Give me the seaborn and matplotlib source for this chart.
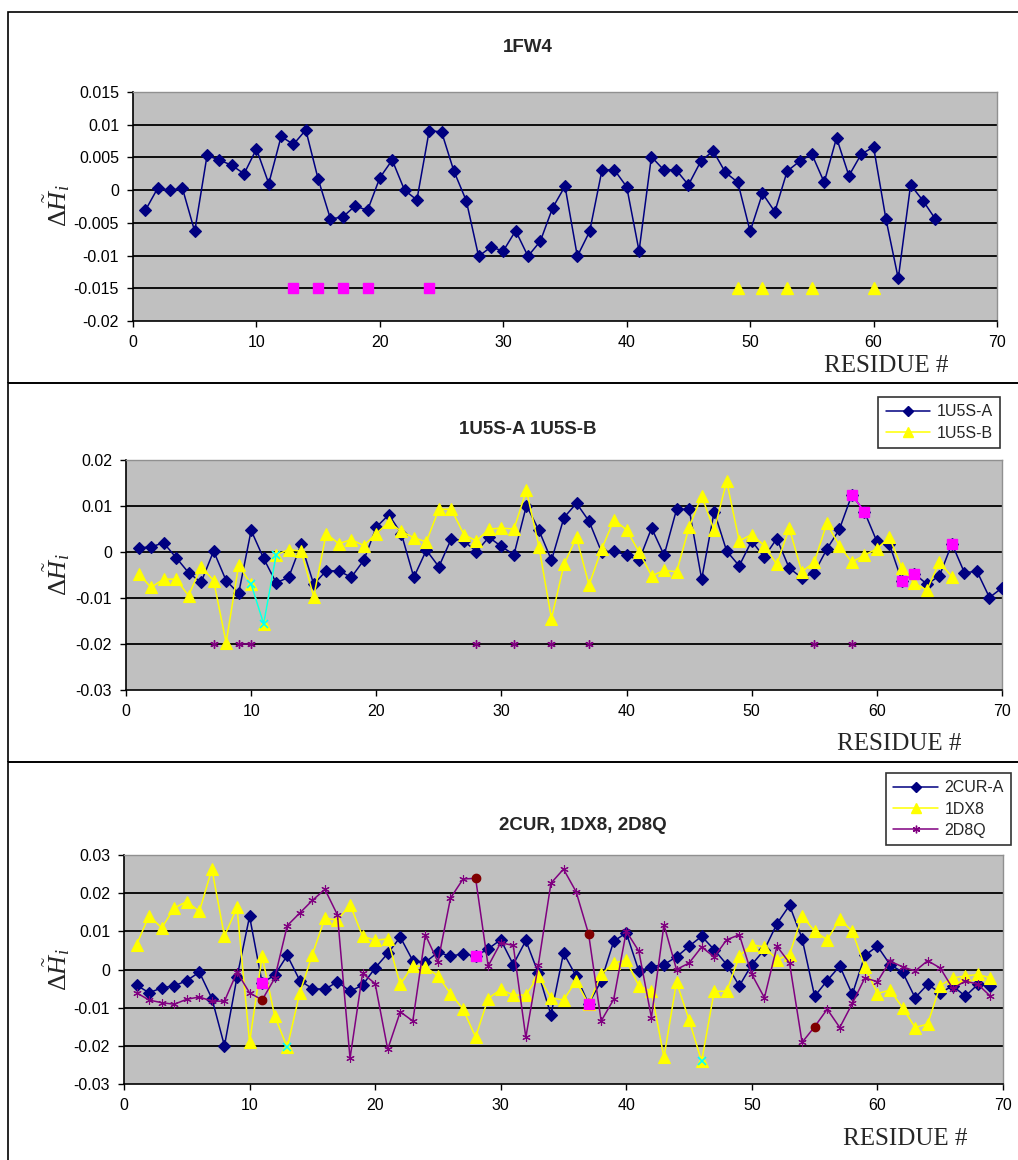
import numpy as np
import matplotlib
matplotlib.use('Agg')
import matplotlib.pyplot as plt
from matplotlib.lines import Line2D
from matplotlib.patches import Rectangle
import seaborn as sns

# ---- data ----
fw4 = [-0.0031, 0.0003, 0.0, 0.0003, -0.0063, 0.0053, 0.0046, 0.0038, 0.0025, 0.0063,
       0.001, 0.0082, 0.007, 0.0092, 0.0017, -0.0044, -0.0041, -0.0024, -0.0031, 0.0019,
       0.0046, 0.0, -0.0015, 0.0091, 0.0089, 0.0029, -0.0016, -0.0101, -0.0087, -0.0093,
       -0.0062, -0.0101, -0.0078, -0.0027, 0.0006, -0.0101, -0.0063, 0.0031, 0.0031, 0.0005,
       -0.0093, 0.0051, 0.0031, 0.0031, 0.0008, 0.0044, 0.006, 0.0027, 0.0012, -0.0063,
       -0.0005, -0.0033, 0.0029, 0.0044, 0.0055, 0.0012, 0.008, 0.0022, 0.0055, 0.0066,
       -0.0044, -0.0135, 0.0008, -0.0016, -0.0044]
fw4_pink_res = [13, 15, 17, 19, 24]
fw4_yellow_res = [49, 51, 53, 55, 60]
fw4_mark_level = -0.015

u5s_a = [0.0009, 0.0011, 0.002, -0.0012, -0.0045, -0.0066, 0.0002, -0.0062, -0.009, 0.0047,
         -0.0014, -0.0067, -0.0055, 0.0017, -0.007, -0.0041, -0.0041, -0.0055, -0.0018, 0.0054,
         0.0081, 0.004, -0.0055, 0.0004, -0.0032, 0.0029, 0.0024, 0.0001, 0.0032, 0.0012,
         -0.0006, 0.0101, 0.0047, -0.0018, 0.0075, 0.0106, 0.0067, 0.0, 0.0002, -0.0007,
         -0.0018, 0.0052, -0.0007, 0.0093, 0.0093, -0.0059, 0.0088, 0.0002, -0.003, 0.0024,
         -0.0011, 0.0029, -0.0035, -0.0056, -0.0045, 0.0006, 0.0049, 0.0124, 0.0088, 0.0023,
         0.0017, -0.0063, -0.0047, -0.007, -0.0052, 0.0018, -0.0045, -0.0042, -0.0099, -0.0078,
         -0.005]
u5s_b = [-0.0047, -0.0077, -0.0059, -0.0059, -0.0095, -0.0032, -0.0062, -0.0197, -0.0029, -0.007,
         -0.0156, -0.0006, 0.0005, 0.0002, -0.0097, 0.004, 0.0018, 0.0027, 0.0014, 0.004,
         0.0065, 0.0045, 0.0031, 0.0022, 0.0093, 0.0093, 0.0038, 0.0024, 0.005, 0.0052,
         0.005, 0.0134, 0.0011, -0.0145, -0.0027, 0.0032, -0.0072, 0.0006, 0.007, 0.0048,
         0.0, -0.0052, -0.004, -0.0043, 0.0054, 0.0122, 0.0047, 0.0154, 0.0024, 0.0038,
         0.0014, -0.0027, 0.0052, -0.0043, -0.0022, 0.0062, 0.0014, -0.0022, -0.0007, 0.0007,
         0.0032, -0.0035, -0.0068, -0.0083, -0.0022, -0.0054]
u5s_cyan_res = [10, 11, 12]
u5s_pink_res = [58, 59, 62, 63, 66]
u5s_star_res = [7, 9, 10, 28, 31, 34, 37, 55, 58]
u5s_star_level = -0.02

cur_a = [-0.0041, -0.0061, -0.0048, -0.0043, -0.0029, -0.0007, -0.0076, -0.02, -0.002, 0.0139,
         -0.0035, -0.0015, 0.0037, -0.0029, -0.005, -0.0052, -0.0032, -0.0057, -0.0041, 0.0004,
         0.0042, 0.0085, 0.0023, 0.0019, 0.0045, 0.0035, 0.0041, 0.0035, 0.0054, 0.0078,
         0.0013, 0.0076, -0.001, -0.0119, 0.0043, -0.0017, -0.009, -0.003, 0.0074, 0.0096,
         -0.0004, 0.0007, 0.0013, 0.0033, 0.0061, 0.0087, 0.0052, 0.0013, -0.0043, 0.0013,
         0.0052, 0.012, 0.0168, 0.0081, -0.007, -0.0029, 0.0009, -0.0065, 0.0037, 0.0061,
         0.0013, -0.0007, -0.0074, -0.0039, -0.0061, -0.0043, -0.007, -0.0039, -0.0043]
dx8 = [0.0065, 0.0141, 0.0109, 0.0161, 0.0178, 0.0152, 0.0263, 0.0087, 0.0163, -0.0191,
       0.0035, -0.0122, -0.0204, -0.0061, 0.0039, 0.0135, 0.0129, 0.017, 0.0087, 0.0077,
       0.008, -0.0039, 0.001, 0.0007, -0.0017, -0.0063, -0.0104, -0.0177, -0.0076, -0.0052,
       -0.0067, -0.0067, -0.0017, -0.0074, -0.008, -0.003, -0.0091, -0.0013, 0.0017, 0.0024,
       -0.0043, -0.0057, -0.023, -0.0033, -0.0132, -0.0241, -0.0057, -0.0057, 0.0035, 0.0065,
       0.0059, 0.0026, 0.0039, 0.0141, 0.01, 0.0078, 0.0132, 0.01, 0.0007, -0.0063,
       -0.0054, -0.01, -0.0152, -0.0143, -0.0042, -0.0022, -0.0017, -0.0013, -0.0022]
d8q = [-0.0061, -0.008, -0.0087, -0.0091, -0.0078, -0.0072, -0.0083, -0.0083, -0.0007, -0.0061,
       -0.008, -0.0023, 0.0115, 0.0148, 0.0181, 0.021, 0.0143, -0.0233, -0.001, -0.0037,
       -0.0209, -0.0111, -0.0135, 0.0091, 0.002, 0.0187, 0.0237, 0.0239, 0.0009, 0.007,
       0.0063, -0.0178, 0.0013, 0.0226, 0.0263, 0.0204, 0.0093, -0.0135, -0.0078, 0.01,
       0.0048, -0.0126, 0.0117, 0.0, 0.0017, 0.0059, 0.0033, 0.0078, 0.0091, -0.0013,
       -0.0074, 0.0061, 0.0017, -0.0191, -0.015, -0.0104, -0.0152, -0.0089, -0.0022, -0.0032,
       0.0022, 0.0007, -0.0004, 0.0023, 0.0004, -0.005, -0.003, -0.0039, -0.007]
cur_pink_pts = [(11, -0.0035), (28, 0.0035), (37, -0.0091)]
cur_maroon_res = [11, 28, 37, 55]
cur_cyan_res = [13, 46]

titles = ['1FW4', '1U5S-A 1U5S-B', '2CUR, 1DX8, 2D8Q']

NAVY, YEL, PUR = '#000080', '#FFFF00', '#800080'
PINK, CYAN, MAROON = '#FF00FF', '#00FFFF', '#800000'

sns.set_style('white')
plt.rcParams['font.family'] = ['Liberation Sans', 'DejaVu Sans']
plt.rcParams['mathtext.fontset'] = 'custom'
plt.rcParams['mathtext.rm'] = 'Liberation Serif'
plt.rcParams['mathtext.it'] = 'Liberation Serif:italic'

W, H = 1018, 1160
fig = plt.figure(figsize=(W / 100, H / 100), dpi=100)


def rect(l, t, r, b):
    return [l / W, 1 - b / H, (r - l) / W, (b - t) / H]


def style_axes(ax, ylim, ystep):
    ax.set_facecolor('#C0C0C0')
    ax.set_xlim(0, 70)
    ax.set_ylim(*ylim)
    ax.set_xticks(np.arange(0, 71, 10))
    yt = np.round(np.arange(ylim[0], ylim[1] + ystep / 2, ystep), 4)
    ax.set_yticks(yt)
    ax.set_yticklabels([f'{v:g}' for v in yt])
    for v in yt[1:-1]:
        ax.axhline(v, color='black', lw=1.3, zorder=1)
    ax.tick_params(direction='out', length=4, width=1, labelsize=11.5, colors='black',
                   left=True, bottom=True, pad=6)
    for s in ['left', 'bottom']:
        ax.spines[s].set_color('black')
        ax.spines[s].set_linewidth(1.2)
    for s in ['top', 'right']:
        ax.spines[s].set_color('#909090')
        ax.spines[s].set_linewidth(1)
    ax.set_xlabel('')
    ax.set_ylabel('')


def series(ax, vals, color, marker, ms, mec=None):
    res = np.arange(1, len(vals) + 1)
    sns.lineplot(x=res, y=vals, ax=ax, color=color, marker=marker, markersize=ms,
                 markeredgecolor=mec or color, markeredgewidth=0.8, linewidth=1.1,
                 estimator=None, sort=False, legend=False, zorder=3)


def pick(vals, res_list):
    return [vals[r - 1] for r in res_list]


def broken(res_list, yvals):
    # break the line where residues are not consecutive
    xs, ys = [], []
    for k, (r, y) in enumerate(zip(res_list, yvals)):
        if k and r - res_list[k - 1] > 1:
            xs.append(np.nan)
            ys.append(np.nan)
        xs.append(r)
        ys.append(y)
    return xs, ys


STAR = (6, 2, 0)

# ---- panel 1 ----
ax1 = fig.add_axes(rect(133, 92, 997, 321))
series(ax1, fw4, NAVY, 'D', 6.5)
ax1.plot(fw4_pink_res, [fw4_mark_level] * len(fw4_pink_res), 's', color=PINK, ms=6.5, zorder=4)
ax1.plot(fw4_yellow_res, [fw4_mark_level] * len(fw4_yellow_res), '^', color=YEL, ms=8, zorder=4)
style_axes(ax1, (-0.02, 0.015), 0.005)

# ---- panel 2 ----
ax2 = fig.add_axes(rect(126, 460, 1002, 690))
series(ax2, u5s_a, NAVY, 'D', 6.5)
series(ax2, u5s_b, YEL, '^', 8)
ax2.plot(u5s_cyan_res, pick(u5s_b, u5s_cyan_res), color=CYAN, marker='x', ms=6,
         mew=1.2, lw=1.1, zorder=4)
px, py = broken(u5s_pink_res, pick(u5s_a, u5s_pink_res))
ax2.plot(px, py, color=PINK, marker='s', ms=6.5, lw=1.1, zorder=4)
sx, sy = broken(u5s_star_res, [u5s_star_level] * len(u5s_star_res))
ax2.plot(sx, sy, color=PUR, marker=STAR, ms=6, mew=1, lw=1.1, zorder=4)
style_axes(ax2, (-0.03, 0.02), 0.01)

# ---- panel 3 ----
ax3 = fig.add_axes(rect(124, 855, 1003, 1084))
series(ax3, cur_a, NAVY, 'D', 6.5)
series(ax3, dx8, YEL, '^', 8)
series(ax3, d8q, PUR, STAR, 6)
ax3.plot([p[0] for p in cur_pink_pts], [p[1] for p in cur_pink_pts], 's', color=PINK,
         ms=6.5, zorder=4)
ax3.plot(cur_maroon_res, pick(d8q, cur_maroon_res), 'o', color=MAROON, ms=6, zorder=4)
ax3.plot(cur_cyan_res, pick(dx8, cur_cyan_res), 'x', color=CYAN, ms=6, mew=1.2, zorder=4)
style_axes(ax3, (-0.03, 0.03), 0.01)

# ---- titles, axis labels ----
tpos = [(528, 47), (528, 430), (583, 826)]
for t, (x, y) in zip(titles, tpos):
    fig.text(x / W, 1 - y / H, t, ha='center', va='center', fontsize=13.5, fontweight='bold')

for ax, (x, y) in zip([ax1, ax2, ax3], [(886, 366), (899, 744), (905, 1139)]):
    fig.text(x / W, 1 - y / H, 'RESIDUE #', ha='center', va='center', fontsize=18,
             family='Liberation Serif')
for y in [206, 575, 970]:
    fig.text(57 / W, 1 - y / H, r'$\Delta\tilde{H}_{i}$', ha='center', va='center',
             rotation=90, fontsize=19)

# ---- legends ----
def handle(color, marker, ms):
    return Line2D([], [], color=color, marker=marker, ms=ms, lw=1.1, mec=color)


leg_kw = dict(frameon=True, fancybox=False, edgecolor='black', fontsize=11.5,
              handlelength=2.8, borderpad=0.45, labelspacing=0.4, handletextpad=0.4,
              borderaxespad=0, bbox_transform=fig.transFigure, loc='upper right')
l2 = ax2.legend([handle(NAVY, 'D', 5.5), handle(YEL, '^', 7)], ['1U5S-A', '1U5S-B'],
                bbox_to_anchor=(1000 / W, 1 - 397 / H), **leg_kw)
l3 = ax3.legend([handle(NAVY, 'D', 5.5), handle(YEL, '^', 7), handle(PUR, STAR, 5.5)],
                ['2CUR-A', '1DX8', '2D8Q'],
                bbox_to_anchor=(1011 / W, 1 - 773 / H), **leg_kw)
for l in (l2, l3):
    l.get_frame().set_linewidth(1.2)

# ---- panel frames ----
for top, bot in [(12, 383), (383, 762), (762, 1162)]:
    fig.add_artist(Rectangle((8 / W, 1 - bot / H), 1.2, (bot - top) / H,
                             transform=fig.transFigure, fill=False, ec='black', lw=1.2))

fig.savefig('out.png', dpi=100)
